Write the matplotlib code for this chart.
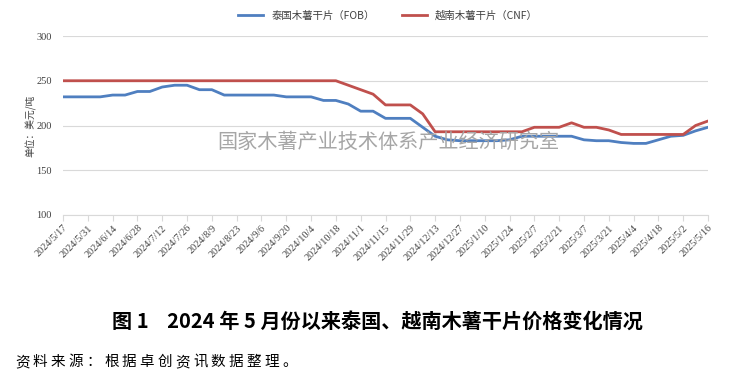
import matplotlib
matplotlib.use("Agg")
import matplotlib.pyplot as plt
import numpy as np

plt.rcParams['font.family'] = ['Noto Sans CJK SC', 'DejaVu Sans']

tick_labels = ["2024/5/17", "2024/5/31", "2024/6/14", "2024/6/28", "2024/7/12", "2024/7/26",
               "2024/8/9", "2024/8/23", "2024/9/6", "2024/9/20", "2024/10/4", "2024/10/18",
               "2024/11/1", "2024/11/15", "2024/11/29", "2024/12/13", "2024/12/27", "2025/1/10",
               "2025/1/24", "2025/2/7", "2025/2/21", "2025/3/7", "2025/3/21", "2025/4/4",
               "2025/4/18", "2025/5/2", "2025/5/16"]

thai_fob = [232, 232, 232, 232, 234, 234, 238, 238, 243, 245, 245, 240, 240,
            234, 234, 234, 234, 234, 232, 232, 232, 228, 228, 224, 216, 216,
            208, 208, 208, 198, 188, 184, 183, 183, 183, 183, 184, 188, 188,
            188, 188, 188, 184, 183, 183, 181, 180, 180, 184, 188, 189, 194, 198]

vn_cnf = [250] * 23 + [245, 240, 235, 223, 223, 223, 213,
                       193, 193, 193, 193, 193, 193, 193, 193,
                       198, 198, 198, 203, 198, 198, 195,
                       190, 190, 190, 190, 190, 190, 200, 205]

series_names = ["泰国木薯干片（FOB）", "越南木薯干片（CNF）"]
y_ticks = [100, 150, 200, 250, 300]
source_text = "资料来源：根据卓创资讯数据整理。"

fig = plt.figure(figsize=(7.37, 3.89), dpi=100)
ax = fig.add_axes([63/737, 174/389, 645/737, 179/389])

x = np.arange(len(thai_fob))
ax.plot(x, thai_fob, color="#4f7fc0", lw=2.0, label=series_names[0], zorder=3,
        solid_joinstyle='round')
ax.plot(x, vn_cnf, color="#c0504d", lw=2.0, label=series_names[1], zorder=3,
        solid_joinstyle='round')

ax.set_xlim(0, len(thai_fob) - 1)
ax.set_ylim(100, 300)
ax.set_yticks(y_ticks)
ax.set_yticklabels([str(v) for v in y_ticks], family='Liberation Serif', fontsize=7.5, color="#404040")
ax.grid(axis='y', color="#d9d9d9", lw=0.8)
ax.set_axisbelow(True)
ax.tick_params(axis='y', length=0, pad=8)

ax.set_xticks(x[::2])
ax.set_xticklabels(tick_labels, rotation=45, ha='right', rotation_mode='anchor',
                   family='Liberation Serif', fontsize=7.3, color="#404040")
ax.tick_params(axis='x', length=4, color="#d9d9d9", pad=2)

for s in ['top', 'right', 'left']:
    ax.spines[s].set_visible(False)
ax.spines['bottom'].set_color("#d9d9d9")

ax.set_ylabel("单位：美元/吨", fontsize=7, color="#404040", labelpad=0)

fig.text(388/737, 1 - 142/389, "国家木薯产业技术体系产业经济研究室", fontsize=14.5,
         color="#a6a6a6", ha='center', va='center', zorder=1)

fig.legend(loc='center', bbox_to_anchor=(388/737, 1 - 16/389), ncol=2, frameon=False,
           fontsize=7.5, handlelength=2.4, columnspacing=2.6, labelcolor="#404040")

fig.text(377/737, 1 - 321/389, "图 1    2024 年 5 月份以来泰国、越南木薯干片价格变化情况",
         fontsize=14.5, fontweight='bold', ha='center', va='center', color='black')

step = 17.8
for i, ch in enumerate(source_text):
    fig.text((15 + i * step) / 737, 1 - 362/389, ch, fontsize=10.5,
             ha='left', va='center', color='black')

fig.savefig("out.png", dpi=100)
